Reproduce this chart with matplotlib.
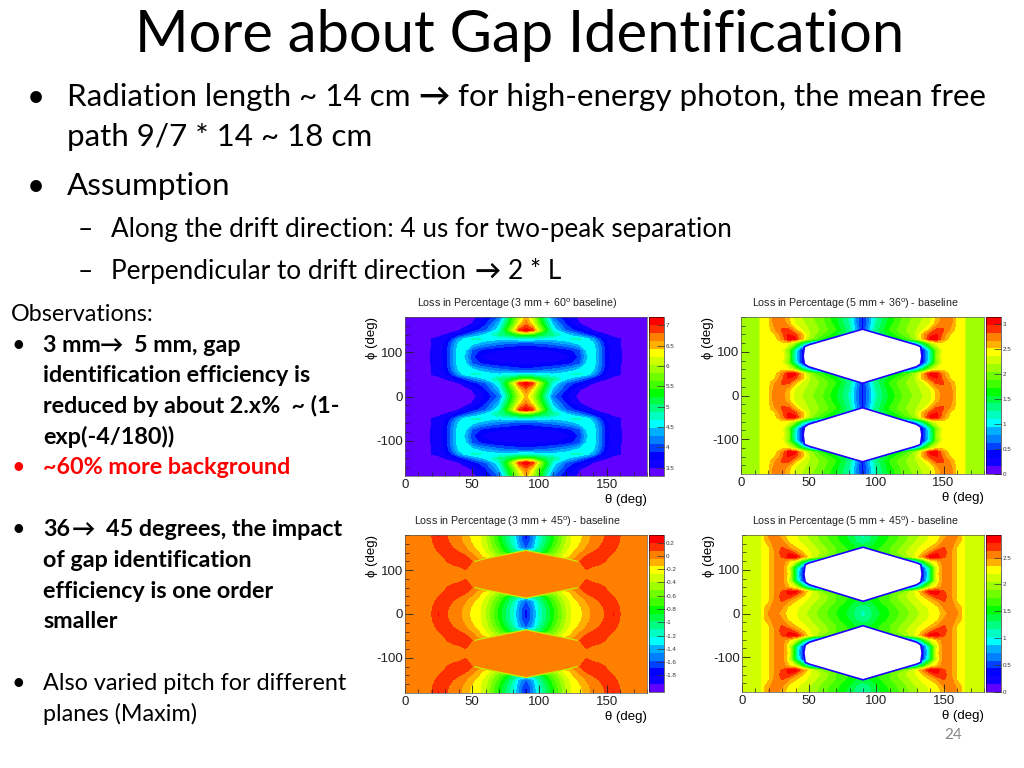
# Slide: gap identification, four loss maps in theta / phi with the slide text around them.

import numpy as np
import matplotlib
matplotlib.use('Agg')
import matplotlib.pyplot as plt
from matplotlib.colors import ListedColormap

plt.rcParams['mathtext.fontset'] = 'custom'
plt.rcParams['mathtext.rm'] = 'Liberation Sans'
plt.rcParams['axes.unicode_minus'] = False

W, H = 1024, 768

# grid nodes for one quadrant, the maps repeat by mirror in theta and phi
theta_nodes = [0, 13, 15, 20, 25, 30, 35, 40, 45, 50, 55, 60, 70, 80, 85, 90]
phi_nodes = [0, 15, 30, 40, 50, 60, 75, 90]

# 3 mm + 60 deg baseline
loss_3mm_60 = [
    [3.35, 3.35, 3.35, 3.35, 3.35, 3.35, 3.35, 3.35, 3.35, 3.40, 3.55, 3.70, 4.10, 5.40, 6.00, 6.50],
    [3.35, 3.35, 3.35, 3.35, 3.35, 3.35, 3.35, 3.35, 3.40, 3.50, 3.65, 3.85, 4.40, 5.60, 6.30, 6.70],
    [3.35, 3.35, 3.35, 3.35, 3.35, 3.35, 3.38, 3.48, 3.60, 3.75, 3.90, 4.05, 4.65, 6.00, 6.90, 7.15],
    [3.35, 3.35, 3.35, 3.35, 3.42, 3.50, 3.60, 3.75, 3.95, 4.15, 4.35, 4.50, 4.90, 5.20, 5.40, 5.50],
    [3.35, 3.35, 3.35, 3.50, 3.55, 3.65, 3.90, 4.30, 4.55, 4.70, 4.70, 4.60, 4.50, 4.55, 4.60, 4.60],
    [3.35, 3.35, 3.35, 3.50, 3.55, 3.70, 4.10, 4.50, 4.65, 4.55, 4.40, 4.30, 4.15, 4.05, 4.00, 4.00],
    [3.35, 3.35, 3.35, 3.52, 3.55, 3.75, 4.20, 4.60, 4.50, 4.05, 3.90, 3.80, 3.70, 3.65, 3.60, 3.60],
    [3.35, 3.35, 3.35, 3.52, 3.55, 3.75, 4.20, 4.65, 4.40, 3.95, 3.70, 3.60, 3.52, 3.52, 3.52, 3.52],
]

# 5 mm + 36 deg - baseline
loss_5mm_36 = [
    [2.10, 2.10, 2.40, 2.45, 2.80, 2.75, 2.55, 2.30, 2.20, 2.10, 2.00, 1.90, 1.60, 1.20, 0.80, 0.40],
    [2.10, 2.10, 2.40, 2.45, 2.75, 2.80, 2.60, 2.35, 2.25, 2.15, 2.05, 1.95, 1.65, 1.25, 0.80, 0.40],
    [2.10, 2.10, 2.40, 2.45, 2.65, 2.85, 2.90, 2.60, 2.35, 2.20, 2.10, 2.00, 1.75, 1.30, 0.90, 0.40],
    [2.10, 2.10, 2.40, 2.45, 2.50, 2.75, 3.00, 2.90, 2.60, 2.25, 2.05, 1.90, 1.60, 1.30, 1.30, 1.30],
    [2.10, 2.10, 2.40, 2.45, 2.45, 2.70, 3.05, 3.05, 2.60, 2.20, 1.90, 1.70, 1.50, 1.30, 1.30, 1.30],
    [2.10, 2.10, 2.40, 2.45, 2.45, 2.45, 2.40, 2.10, 1.50, 1.00, 0.50, 0.30, 0.30, 0.30, 0.30, 0.30],
    [2.10, 2.10, 2.40, 2.45, 2.45, 2.45, 2.00, 1.20, 0.40, 0.30, 0.30, 0.30, 0.30, 0.30, 0.30, 0.30],
    [2.10, 2.10, 2.40, 2.45, 2.45, 2.45, 2.10, 1.10, 0.40, 0.30, 0.30, 0.30, 0.30, 0.30, 0.30, 0.30],
]

# 3 mm + 45 deg - baseline
loss_3mm_45 = [
    [0.00, 0.00, 0.00, 0.08, 0.20, 0.10, 0.02, 0.00, -0.10, -0.20, -0.25, -0.40, -0.80, -1.20, -1.50, -1.75],
    [0.00, 0.00, 0.00, 0.07, 0.19, 0.12, 0.03, 0.00, -0.08, -0.18, -0.25, -0.38, -0.78, -1.18, -1.48, -1.72],
    [0.00, 0.00, 0.00, 0.02, 0.13, 0.19, 0.09, 0.02, -0.03, -0.12, -0.22, -0.33, -0.70, -1.10, -1.40, -1.60],
    [0.00, 0.00, 0.00, 0.00, 0.08, 0.16, 0.18, 0.09, 0.02, -0.06, -0.16, -0.28, -0.60, -1.00, -1.10, -1.10],
    [0.00, 0.00, 0.00, 0.00, 0.03, 0.10, 0.18, 0.19, 0.10, 0.03, -0.10, -0.22, -0.45, -0.50, -0.50, -0.50],
    [0.00, 0.00, 0.00, 0.00, 0.00, 0.06, 0.15, 0.19, 0.19, 0.08, 0.00, 0.00, 0.00, 0.00, 0.00, 0.00],
    [0.00, 0.00, 0.00, 0.00, 0.00, 0.00, 0.00, 0.05, 0.10, 0.02, 0.00, 0.00, 0.00, 0.00, 0.00, 0.00],
    [0.00, 0.00, 0.00, 0.00, 0.00, 0.00, 0.00, 0.00, 0.00, 0.00, 0.00, 0.00, 0.00, 0.00, 0.00, 0.00],
]

# 5 mm + 45 deg - baseline
loss_5mm_45 = [
    [2.10, 2.10, 2.25, 2.50, 2.55, 2.40, 2.25, 2.20, 2.10, 2.00, 1.90, 1.80, 1.60, 1.40, 1.25, 1.10],
    [2.10, 2.10, 2.25, 2.45, 2.55, 2.50, 2.30, 2.22, 2.15, 2.05, 1.95, 1.85, 1.65, 1.45, 1.30, 1.20],
    [2.10, 2.10, 2.25, 2.30, 2.55, 2.65, 2.50, 2.35, 2.25, 2.15, 2.05, 1.95, 1.75, 1.55, 1.45, 1.45],
    [2.10, 2.10, 2.25, 2.30, 2.52, 2.70, 2.75, 2.55, 2.35, 2.20, 2.10, 2.00, 1.75, 1.60, 1.60, 1.60],
    [2.10, 2.10, 2.25, 2.30, 2.52, 2.65, 2.85, 2.85, 2.55, 2.25, 2.05, 1.85, 1.65, 1.60, 1.60, 1.60],
    [2.10, 2.10, 2.25, 2.30, 2.52, 2.55, 2.35, 2.15, 1.60, 1.00, 0.50, 0.30, 0.30, 0.30, 0.30, 0.30],
    [2.10, 2.10, 2.25, 2.30, 2.52, 2.55, 2.15, 1.30, 0.50, 0.30, 0.30, 0.30, 0.30, 0.30, 0.30, 0.30],
    [2.10, 2.10, 2.25, 2.30, 2.52, 2.55, 2.25, 1.20, 0.40, 0.30, 0.30, 0.30, 0.30, 0.30, 0.30, 0.30],
]

# outline of the empty (white) region, left half, phi > 0
hole_theta = [90, 50, 47, 46, 47, 50, 90]
hole_phi = [28, 66, 72, 90, 112, 116, 152]
# outline of the flat orange plateau in the 3 mm + 45 map
plateau_theta = [90, 58, 52, 52, 58, 90]
plateau_phi = [36, 56, 60, 120, 125, 145]

titles = [
    'Loss in Percentage (3 mm + 60$^{\\mathrm{o}}$ baseline)',
    'Loss in Percentage (5 mm + 36$^{\\mathrm{o}}$) - baseline',
    'Loss in Percentage (3 mm + 45$^{\\mathrm{o}}$) - baseline',
    'Loss in Percentage (5 mm + 45$^{\\mathrm{o}}$) - baseline',
]
ranges = [(3.3, 7.2), (0.0, 3.15), (-2.05, 0.315), (0.0, 2.92)]
cbar_ticks = [
    [3.5, 4, 4.5, 5, 5.5, 6, 6.5, 7],
    [0, 0.5, 1, 1.5, 2, 2.5, 3],
    [-1.8, -1.6, -1.4, -1.2, -1, -0.8, -0.6, -0.4, -0.2, 0, 0.2],
    [0, 0.5, 1, 1.5, 2, 2.5],
]
cbar_labels = [
    ['3.5', '4', '4.5', '5', '5.5', '6', '6.5', '7'],
    ['0', '0.5', '1', '1.5', '2', '2.5', '3'],
    ['-1.8', '-1.6', '-1.4', '-1.2', '-1', '-0.8', '-0.6', '-0.4', '-0.2', '0', '0.2'],
    ['0', '0.5', '1', '1.5', '2', '2.5'],
]
# left, right, top, bottom in pixels
boxes = [(405, 647, 317, 476), (741, 984, 317, 474), (405, 647, 535, 693), (742, 984, 535, 692)]
cboxes = [(649, 664, 317, 476), (986, 1001, 317, 474), (649, 664, 535, 692), (986, 1001, 535, 692)]
title_x = [517, 855, 517, 855]
title_y = [307, 307, 525, 525]

root_cmap = ListedColormap(['#6000ff', '#1000ff', '#0000ff', '#0040ff', '#0080ff', '#00b0ff', '#00ffff',
                            '#00ffc0', '#00ff80', '#00ff40', '#00ff00', '#40ff00', '#70ff00', '#a0ff00',
                            '#d0ff00', '#ffff00', '#ffb000', '#ff8000', '#ff3000', '#ff0000'])


def mirror_grid(rows):
    z = np.array(rows, dtype=float)
    z = np.hstack([z, z[:, -2::-1]])
    z = np.vstack([z, z[-2::-1]])
    return np.vstack([z[:0:-1], z])


def mirror_outline(th, ph):
    th = np.array(th, dtype=float)
    ph = np.array(ph, dtype=float)
    return np.concatenate([th, 180 - th[::-1]]), np.concatenate([ph, ph[::-1]])


def box_axes(fig, box):
    l, r, t, b = box
    return fig.add_axes([l / W, 1 - b / H, (r - l) / W, (b - t) / H])


th = np.array(theta_nodes, dtype=float)
th_full = np.concatenate([th, 180 - th[-2::-1]])
ph = np.array(phi_nodes, dtype=float)
ph_half = np.concatenate([ph, 180 - ph[-2::-1]])
ph_full = np.concatenate([-ph_half[:0:-1], ph_half])

fig = plt.figure(figsize=(W / 100, H / 100), dpi=100, facecolor='white')
grids = [loss_3mm_60, loss_5mm_36, loss_3mm_45, loss_5mm_45]

for i, rows in enumerate(grids):
    ax = box_axes(fig, boxes[i])
    lo, hi = ranges[i]
    lev = np.linspace(lo, hi, 21)
    z = np.clip(mirror_grid(rows), lo + 1e-3, hi - 1e-3)
    cs = ax.contourf(th_full, ph_full, z, levels=lev, cmap=root_cmap)

    if i in (1, 3):
        oth, oph = mirror_outline(hole_theta, hole_phi)
        for sign in (1, -1):
            ax.fill(oth, sign * oph, fc='white', ec='#2000ff', lw=1.2, zorder=3)
    if i == 2:
        oth, oph = mirror_outline(plateau_theta, plateau_phi)
        for sign in (1, -1):
            ax.fill(oth, sign * oph, fc='#ff8000', ec='none', zorder=3)
            # only the sloped edges show a thin line
            ax.plot(oth[:3], sign * oph[:3], color='#c8f000', lw=0.9, zorder=4)
            ax.plot(oth[3:6], sign * oph[3:6], color='#c8f000', lw=0.9, zorder=4)
            ax.plot(oth[6:9], sign * oph[6:9], color='#c8f000', lw=0.9, zorder=4)
            ax.plot(oth[9:], sign * oph[9:], color='#c8f000', lw=0.9, zorder=4)

    ax.set_xlim(0, 180)
    ax.set_ylim(-180, 180)
    ax.set_xticks([0, 50, 100, 150])
    ax.set_xticks(np.arange(0, 181, 10), minor=True)
    ax.set_yticks([-100, 0, 100])
    ax.set_yticks(np.arange(-160, 181, 20), minor=True)
    ax.tick_params(which='major', direction='in', length=6, width=0.6, labelsize=9.5, colors='#222222')
    ax.tick_params(which='minor', direction='in', length=3, width=0.5, colors='#222222')
    ax.tick_params(axis='x', which='major', pad=2)
    ax.tick_params(axis='y', which='major', pad=1.5)
    for lab in ax.get_xticklabels() + ax.get_yticklabels():
        lab.set_family('Liberation Sans')
    for s in ax.spines.values():
        s.set_linewidth(0.5)
        s.set_color('#555555')
    ax.set_xlabel('θ (deg)', loc='right', family=['Liberation Sans', 'DejaVu Sans'], fontsize=9.5, labelpad=2)
    ax.set_ylabel('ϕ (deg)', loc='top', family=['Liberation Sans', 'DejaVu Sans'], fontsize=9.5, labelpad=-1)

    cax = box_axes(fig, cboxes[i])
    cb = fig.colorbar(cs, cax=cax, drawedges=False)
    cb.set_ticks(cbar_ticks[i], labels=cbar_labels[i])
    cb.ax.minorticks_off()
    cb.ax.tick_params(length=5, width=0.5, direction='in', labelsize=4.5, pad=1, colors='#333333')
    cb.outline.set_linewidth(0.4)
    for lab in cb.ax.get_yticklabels():
        lab.set_family('Liberation Sans')

    fig.text(title_x[i] / W, 1 - title_y[i] / H, titles[i], family='Liberation Sans', fontsize=7.7,
             ha='center', va='baseline', color='#222222')


def put(x, y, s, size, weight='normal', color='black', ha='left'):
    fig.text(x / W, 1 - y / H, s, fontsize=size, weight=weight, color=color, ha=ha, va='baseline',
             family=['Lato', 'DejaVu Sans'])


BODY = 22.6
SUB = 18.8
SIDE = 16.8

put(520, 52, 'More about Gap Identification', 41.7, ha='center')

put(27, 106, '•', BODY)
put(67, 106, 'Radiation length ~ 14 cm', BODY)
put(418, 106, '→', BODY, weight='bold')
put(458, 106, 'for high-energy photon, the mean free', BODY)
put(67, 146, 'path 9/7 * 14 ~ 18 cm', BODY)
put(27, 195, '•', BODY)
put(67, 195, 'Assumption', BODY)
put(78, 237, '–', SUB)
put(111, 237, 'Along the drift direction: 4 us for two-peak separation', SUB)
put(78, 279, '–', SUB)
put(111, 279, 'Perpendicular to drift direction', SUB)
put(475, 279, '→', SUB, weight='bold')
put(508, 279, '2 * L', SUB)

put(11, 321, 'Observations:', SIDE)
put(11, 352, '•', SIDE)
put(43, 352, '3 mm', SIDE, weight='bold')
put(100, 352, '→', SIDE, weight='bold')
put(134, 352, '5 mm, gap', SIDE, weight='bold')
put(43, 382, 'identification efficiency is', SIDE, weight='bold')
put(43, 413, 'reduced by about 2.x%  ~ (1-', SIDE, weight='bold')
put(43, 444, 'exp(-4/180))', SIDE, weight='bold')
put(11, 474, '•', SIDE, color='#ff0000')
put(43, 474, '~60% more background', SIDE, weight='bold', color='#ff0000')

put(11, 536, '•', SIDE)
put(43, 536, '36', SIDE, weight='bold')
put(72, 536, '→', SIDE, weight='bold')
put(106, 536, '45 degrees, the impact', SIDE, weight='bold')
put(43, 567, 'of gap identification', SIDE, weight='bold')
put(43, 598, 'efficiency is one order', SIDE, weight='bold')
put(43, 628, 'smaller', SIDE, weight='bold')

put(11, 690, '•', SIDE)
put(43, 690, 'Also varied pitch for different', SIDE)
put(43, 721, 'planes (Maxim)', SIDE)

put(953, 739, '24', 11, color='#888888', ha='center')

fig.savefig('out.png', dpi=100)
